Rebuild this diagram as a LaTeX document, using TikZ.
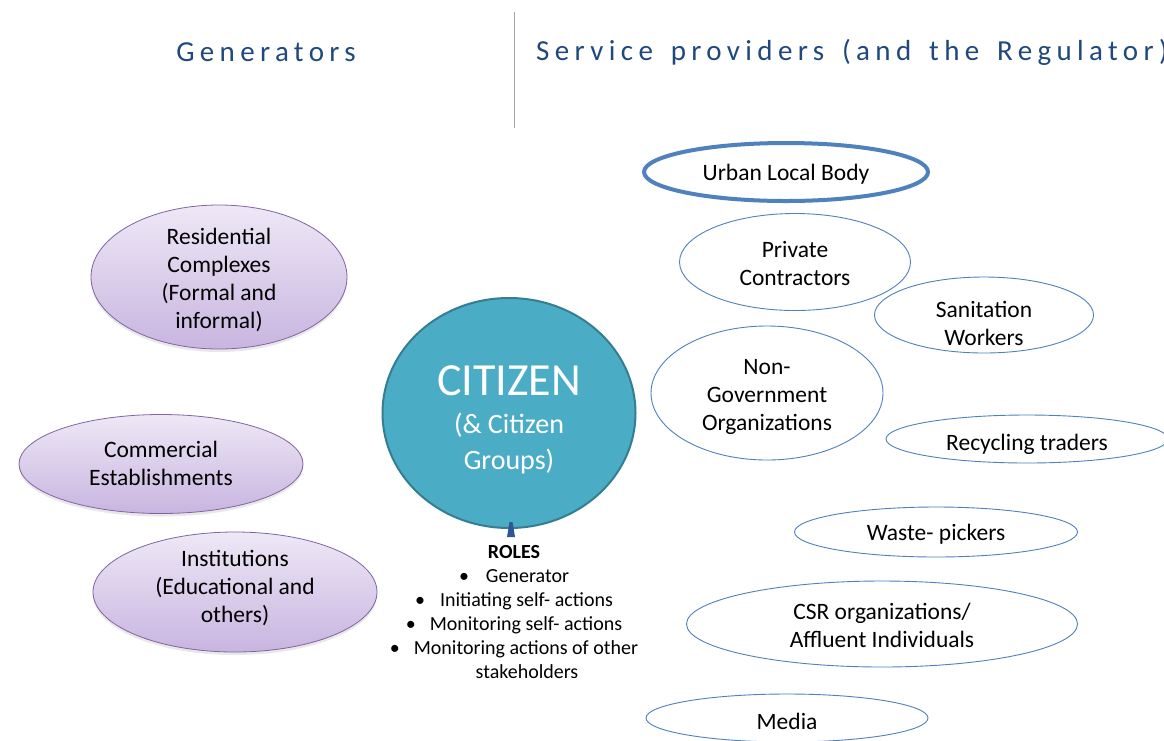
\documentclass[tikz,border=0pt]{standalone}
\usepackage{fontspec}
\setmainfont{Carlito}
\newfontfamily\hdrfont[LetterSpace=18.5,WordSpace=1.5]{Carlito}
\usetikzlibrary{shapes.geometric,shadows}
\definecolor{hdr}{HTML}{1F497D}
\definecolor{provline}{HTML}{4F81BD}
\definecolor{purpline}{HTML}{8064A2}
\definecolor{purptop}{HTML}{EEE8F6}
\definecolor{purpbot}{HTML}{C8B5E0}
\definecolor{citfill}{HTML}{4BACC6}
\definecolor{citline}{HTML}{357D91}
\definecolor{tri}{HTML}{2F5597}
\tikzset{
  body/.style={font=\fontsize{23.5}{28}\selectfont, align=center, text=black, inner sep=0pt},
  gen/.style={ellipse, draw=purpline, line width=0.8pt, top color=purptop, bottom color=purpbot, inner sep=0pt,
     drop shadow={opacity=0.18, shadow xshift=0pt, shadow yshift=-3pt}},
  prov/.style={ellipse, draw=provline, line width=0.9pt, fill=white, inner sep=0pt},
  header/.style={font=\hdrfont\fontsize{29}{32}\selectfont, text=hdr, inner sep=0pt}
}
\begin{document}
\begin{tikzpicture}[x=1pt,y=-1pt]
\useasboundingbox (0,0) rectangle (1164,740);
\fill[white] (0,0) rectangle (1164,740);
% headers
\node[header] (hgen) at (266,52) {Generators};
\node[header, anchor=west] (hprov) at (536,52) {Service providers (and the Regulator)};
\coordinate (divtop) at (514,12);
\coordinate (divbot) at (514,128);
\draw[gray!70, line width=0.6pt] (divtop) -- (divbot);
% generators
\node[gen, minimum width=256pt, minimum height=144pt] (res) at (219,277) {};
\node[body] (rest) at (219,280) {Residential\\Complexes\\(Formal and\\informal)};
\node[gen, minimum width=284pt, minimum height=99pt] (com) at (161,464) {};
\node[body] (comt) at (161,463) {Commercial\\Establishments};
\node[gen, minimum width=284pt, minimum height=120pt] (ins) at (235,592) {};
\node[body] (inst) at (235,588) {Institutions\\(Educational and\\others)};
% citizen
\node[ellipse, draw=citline, line width=2pt, fill=citfill, minimum width=253pt, minimum height=230pt, inner sep=0pt] (cit) at (509,413) {};
\node[text=white, align=center, inner sep=0pt, font=\fontsize{28}{36}\selectfont] (citlbl) at (509,420)
  {{\fontsize{46}{46}\selectfont CITIZEN}\\[2pt](\& Citizen\\Groups)};
% roles
\node[align=center, inner sep=0pt, anchor=north, font=\fontsize{20}{24}\selectfont] (roles) at (514,545)
  {\textbf{ROLES}\\
   \textbullet\hspace{17pt}Generator\\
   \textbullet\hspace{15pt}Initiating self- actions\\
   \textbullet\hspace{14pt}Monitoring self- actions\\
   \textbullet\hspace{14pt}Monitoring actions of other\\
   \hspace*{26pt}stakeholders};
\fill[tri] (507,537) -- (509.5,522) -- (512.5,522) -- (515,537) -- cycle;
% providers
\node[prov, line width=4pt, minimum width=284pt, minimum height=58pt] (ulb) at (786,172) {};
\node[body] (ulbt) at (786,174) {Urban Local Body};
\node[prov, minimum width=231pt, minimum height=97pt] (pc) at (795,262) {};
\node[body] (pct) at (795,263) {Private\\Contractors};
\node[prov, minimum width=219pt, minimum height=76pt] (sw) at (984,315) {};
\node[body] (swt) at (984,323) {Sanitation\\Workers};
\node[prov, minimum width=232pt, minimum height=134pt] (ngo) at (767,393) {};
\node[body] (ngot) at (767,397) {Non-\\Government\\Organizations};
\node[prov, minimum width=282pt, minimum height=48pt] (rt) at (1027,439) {};
\node[body] (rtt) at (1027,444) {Recycling traders};
\node[prov, minimum width=283pt, minimum height=50pt] (wp) at (936,532) {};
\node[body] (wpt) at (936,534) {Waste- pickers};
\node[prov, minimum width=391pt, minimum height=86pt] (csr) at (882,624) {};
\node[body] (csrt) at (882,625) {CSR organizations/\\Affluent Individuals};
\node[prov, minimum width=282pt, minimum height=48pt] (med) at (787,718) {};
\node[body] (medt) at (787,721) {Media};
\end{tikzpicture}
\end{document}
